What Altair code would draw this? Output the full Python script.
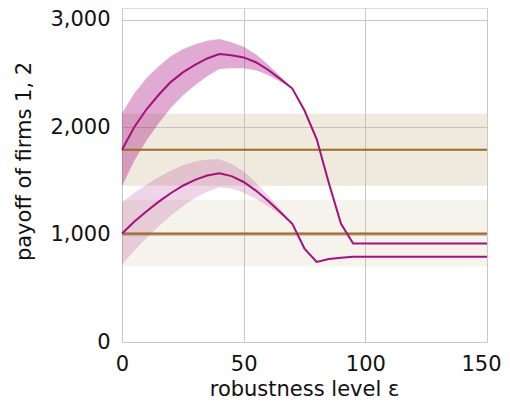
import altair as alt
import pandas as pd

# robustness level epsilon
eps = [0, 5, 10, 15, 20, 25, 30, 35, 40, 45, 50, 55, 60, 65, 70, 75, 80, 85, 90, 95,
       100, 105, 110, 115, 120, 125, 130, 135, 140, 145, 150]
# robust payoffs (magenta curves)
payoff_firm1 = [1790, 2000, 2165, 2300, 2420, 2510, 2580, 2640, 2681, 2670, 2650, 2605, 2535, 2450, 2360,
                2155, 1890, 1480, 1100, 918, 918, 918, 918, 918, 918, 918, 918, 918, 918, 918, 918]
payoff_firm2 = [1010, 1120, 1215, 1305, 1385, 1455, 1510, 1550, 1572, 1545, 1490, 1410, 1315, 1210, 1100,
                870, 745, 772, 785, 794, 794, 794, 794, 794, 794, 794, 794, 794, 794, 794, 794]
# spread of robust payoffs (shaded magenta bands), defined up to eps = 70
band_eps = [0, 5, 10, 15, 20, 25, 30, 35, 40, 45, 50, 55, 60, 65, 70]
spread_firm1 = [340, 315, 290, 265, 240, 215, 190, 165, 140, 120, 100, 75, 50, 25, 0]
spread_firm2 = [290, 270, 250, 230, 210, 190, 170, 150, 130, 115, 100, 75, 50, 25, 0]
# nominal payoffs (brown lines) and their ranges (tan bands)
nominal = [1790, 1010]
nominal_lo = [1455, 705]
nominal_hi = [2125, 1325]
firms = ["firm 1", "firm 2"]

x_ticks = [0, 50, 100, 150]
y_ticks = [0, 1000, 2000, 3000]

FONT = "DejaVu Sans"

xscale = alt.Scale(domain=[0, 150], nice=False, zero=False)
yscale = alt.Scale(domain=[0, 3110], nice=False, zero=False)

xaxis = alt.Axis(values=x_ticks, title="robustness level ε", grid=True, ticks=False, domain=False,
                 labelFont=FONT, labelFontSize=21, labelColor="#111111",
                 labelBaseline="alphabetic", labelPadding=28,
                 labelOffset={"condition": {"test": "datum.value == 150", "value": -6}, "value": 0},
                 titleFont=FONT, titleFontSize=21, titleFontWeight="normal", titleColor="#111111",
                 titleBaseline="alphabetic", titleY=53, titleX=182,
                 gridColor="#c8c8c8", gridWidth=1, labelFlush=False)
yaxis = alt.Axis(values=y_ticks, format=",d", title="payoff of firms 1, 2", grid=True, ticks=False,
                 domain=False,
                 labelFont=FONT, labelFontSize=21, labelColor="#111111", labelPadding=12,
                 labelBaseline="middle",
                 titleFont=FONT, titleFontSize=21, titleFontWeight="normal", titleColor="#111111",
                 titleBaseline="alphabetic", titleX=-92, titleY=153, titleAngle=-90,
                 gridColor="#c8c8c8", gridWidth=1, labelFlush=False)

const_df = pd.DataFrame({
    "eps": [0, 150, 0, 150],
    "firm": [firms[0], firms[0], firms[1], firms[1]],
    "val": [nominal[0], nominal[0], nominal[1], nominal[1]],
    "lo": [nominal_lo[0], nominal_lo[0], nominal_lo[1], nominal_lo[1]],
    "hi": [nominal_hi[0], nominal_hi[0], nominal_hi[1], nominal_hi[1]],
})

band_df = pd.DataFrame({
    "eps": band_eps,
    "lo1": [p - s for p, s in zip(payoff_firm1, spread_firm1)],
    "hi1": [p + s for p, s in zip(payoff_firm1, spread_firm1)],
    "lo2": [p - s for p, s in zip(payoff_firm2, spread_firm2)],
    "hi2": [p + s for p, s in zip(payoff_firm2, spread_firm2)],
})

line_df = pd.DataFrame({
    "eps": eps * 2,
    "val": payoff_firm1 + payoff_firm2,
    "firm": [firms[0]] * len(eps) + [firms[1]] * len(eps),
})

X = alt.X("eps:Q", scale=xscale, axis=xaxis)

tan1 = alt.Chart(const_df[const_df.firm == firms[0]]).mark_area(color="#c3ad84", opacity=0.27).encode(
    x=X, y=alt.Y("lo:Q", scale=yscale, axis=yaxis), y2="hi:Q")
tan2 = alt.Chart(const_df[const_df.firm == firms[1]]).mark_area(color="#c3ad84", opacity=0.15).encode(
    x=X, y=alt.Y("lo:Q", scale=yscale, axis=yaxis), y2="hi:Q")
pink1 = alt.Chart(band_df).mark_area(color="#a81482", opacity=0.36).encode(
    x=X, y=alt.Y("lo1:Q", scale=yscale, axis=yaxis), y2="hi1:Q")
pink2 = alt.Chart(band_df).mark_area(color="#a81482", opacity=0.18).encode(
    x=X, y=alt.Y("lo2:Q", scale=yscale, axis=yaxis), y2="hi2:Q")
brown = alt.Chart(const_df).mark_line(color="#9c6b22", strokeWidth=2.2).encode(
    x=X, y=alt.Y("val:Q", scale=yscale, axis=yaxis), detail="firm:N")
magenta = alt.Chart(line_df).mark_line(color="#a3127b", strokeWidth=2).encode(
    x=X, y=alt.Y("val:Q", scale=yscale, axis=yaxis), detail="firm:N")

chart = alt.layer(tan1, tan2, pink1, pink2, brown, magenta).properties(
    width=365, height=334,
    autosize=alt.AutoSizeParams(type="none"),
    padding={"left": 114, "top": 0, "right": 15, "bottom": 60},
).configure_view(stroke="#222222", strokeWidth=1.2).configure(background="white")

chart.save("out.html", embed_options={"renderer": "svg", "actions": False})
